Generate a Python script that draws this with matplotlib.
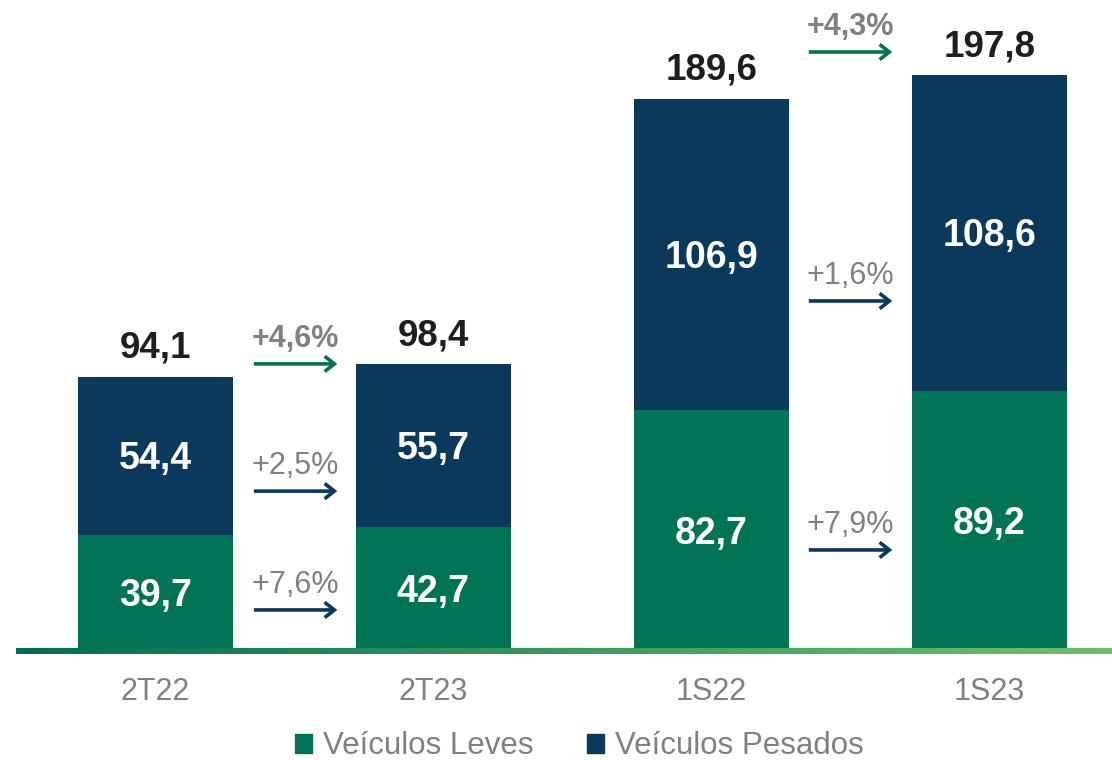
import matplotlib.pyplot as plt
import numpy as np
from matplotlib.patches import Patch
from matplotlib.colors import LinearSegmentedColormap

plt.rcParams['font.family'] = ['Liberation Sans', 'DejaVu Sans']

# data
categories = ['2T22', '2T23', '1S22', '1S23']
leves = [39.7, 42.7, 82.7, 89.2]
pesados = [54.4, 55.7, 106.9, 108.6]
totals = [94.1, 98.4, 189.6, 197.8]

# growth labels and the level of their arrows
growth_2t = ['+4,6%', '+2,5%', '+7,6%']
growth_1s = ['+4,3%', '+1,6%', '+7,9%']
arrow_y_2t = [98.6, 54.9, 14.1]
arrow_y_1s = [205.7, 120.2, 34.7]

GREEN = '#007455'
NAVY = '#0A395C'
GRAY = '#808080'
DARK = '#1e1e1e'

x = np.arange(len(categories))
px = 2.912  # pixels per unit

fig = plt.figure(figsize=(11.12, 7.6), dpi=100)
ax = fig.add_axes([16 / 1112, 109 / 760, 1 - 16 / 1112, 651 / 760])

w = 0.557
ax.bar(x, leves, width=w, color=GREEN, zorder=2)
ax.bar(x, pesados, width=w, bottom=leves, color=NAVY, zorder=2)

dy = 3 / px  # nudge inner labels down a touch
for xi, l, p, t in zip(x, leves, pesados, totals):
    ax.text(xi, l / 2 - dy, f'{l:.1f}'.replace('.', ','), ha='center', va='center',
            color='white', fontsize=27, fontweight='bold', zorder=3)
    ax.text(xi, l + p / 2 - dy, f'{p:.1f}'.replace('.', ','), ha='center', va='center',
            color='white', fontsize=27, fontweight='bold', zorder=3)
    ax.text(xi, t + 19 / px, f'{t:.1f}'.replace('.', ','), ha='center', va='baseline',
            color=DARK, fontsize=26.5, fontweight='bold', zorder=3)

for xc, labels, ys in [(0.505, growth_2t, arrow_y_2t), (2.5, growth_1s, arrow_y_1s)]:
    for i, (lab, ya) in enumerate(zip(labels, ys)):
        col = GREEN if i == 0 else NAVY
        ax.annotate('', xy=(xc + 0.15, ya), xytext=(xc - 0.15, ya),
                    arrowprops=dict(arrowstyle='->,head_length=0.7,head_width=0.55',
                                    color=col, lw=2.6, shrinkA=0, shrinkB=0,
                                    capstyle='butt', joinstyle='miter'))
        ax.text(xc, ya + 17 / px, lab, ha='center', va='baseline', color=GRAY,
                fontsize=22, fontweight='bold' if i == 0 else 'normal')

# gradient baseline
cmap = LinearSegmentedColormap.from_list('base', ['#006E4E', '#3A9A5E', '#6CC06A'])
grad = np.linspace(0, 1, 256).reshape(1, -1)
ax.imshow(grad, cmap=cmap, extent=(-0.5, 3.44, -1.1, 0.7), aspect='auto',
          zorder=4, clip_on=False)
ax.set_xlim(-0.5, 3.44)
ax.set_ylim(0, 651 / px)

ax.set_xticks(x)
ax.set_xticklabels(categories, fontsize=22, color=GRAY)
ax.tick_params(axis='x', length=0, pad=19)
ax.set_yticks([])
for s in ax.spines.values():
    s.set_visible(False)

handles = [Patch(color=GREEN, label='Veículos Leves'), Patch(color=NAVY, label='Veículos Pesados')]
fig.legend(handles=handles, loc='center', bbox_to_anchor=(0.521, 0.018), ncol=2,
           frameon=False, fontsize=22.5, labelcolor=GRAY, handlelength=0.55,
           handleheight=0.55, handletextpad=0.35, columnspacing=1.7)

fig.savefig('out.png', dpi=100)
